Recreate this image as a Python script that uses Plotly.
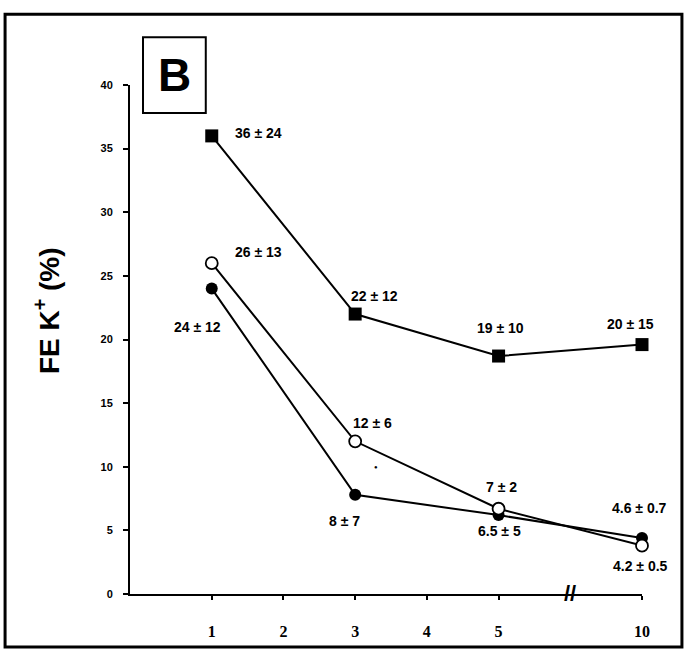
import plotly.graph_objects as go

# ---- data ----
axis_categories = ["1", "2", "3", "4", "5", "//", "10"]
tick_labels = ["1", "2", "3", "4", "5", "10"]
days = ["1", "3", "5", "10"]
squares = [36, 22, 18.7, 19.6]
open_circles = [26, 12, 6.7, 3.8]
filled_circles = [24, 7.8, 6.2, 4.4]
square_labels = ["36 ± 24", "22 ± 12", "19 ± 10", "20 ± 15"]
open_labels = ["26 ± 13", "12 ± 6", "7 ± 2", "4.2 ± 0.5"]
filled_labels = ["24 ± 12", "8 ± 7", "6.5 ± 5", "4.6 ± 0.7"]
y_ticks = [0, 5, 10, 15, 20, 25, 30, 35, 40]

SANS = "Liberation Sans, Arial, sans-serif"
SERIF = "Liberation Serif, Times New Roman, serif"


def cat_index(c):
    return axis_categories.index(c)


fig = go.Figure()
line = dict(color="black", width=2)
fig.add_trace(go.Scatter(x=days, y=squares, mode="lines+markers", line=line,
                         marker=dict(symbol="square", size=13, color="black"),
                         cliponaxis=False, showlegend=False))
fig.add_trace(go.Scatter(x=days, y=filled_circles, mode="lines+markers", line=line,
                         marker=dict(symbol="circle", size=12, color="black"),
                         cliponaxis=False, showlegend=False))
fig.add_trace(go.Scatter(x=days, y=open_circles, mode="lines+markers", line=line,
                         marker=dict(symbol="circle", size=12, color="white",
                                     line=dict(color="black", width=1.8)),
                         cliponaxis=False, showlegend=False))

lab_font = dict(family=SANS, size=14, color="black")
sq_off = [(47, 3), (19, 18), (2, 28), (-12, 21)]
op_off = [(47, 11), (17, 18), (3, 22), (-2, -20)]
fi_off = [(-14, -38), (-11, -26), (1, -16), (-3, 30)]
for vals, labs, offs in [(squares, square_labels, sq_off),
                         (open_circles, open_labels, op_off),
                         (filled_circles, filled_labels, fi_off)]:
    for d, v, t, (dx, dy) in zip(days, vals, labs, offs):
        fig.add_annotation(x=cat_index(d), y=v, text="<b>%s</b>" % t, showarrow=False,
                           xanchor="center", yanchor="middle",
                           xshift=dx, yshift=dy, font=lab_font)

# small significance dot
fig.add_annotation(x=cat_index("3"), y=10, text="●", showarrow=False, xshift=21,
                   xanchor="center", yanchor="middle",
                   font=dict(family=SANS, size=6, color="black"))
# axis break
fig.add_annotation(x=cat_index("//"), y=0, text="<b>//</b>", showarrow=False, yshift=1,
                   xanchor="center", yanchor="middle",
                   font=dict(family=SANS, size=22, color="black"))

# y title
fig.add_annotation(xref="paper", yref="paper", x=-0.162, y=0.556,
                   xanchor="center", yanchor="middle",
                   text="<b>FE K<sup>+</sup> (%)</b>", textangle=-90, showarrow=False,
                   font=dict(family=SANS, size=28, color="black"))

# B panel box
fig.add_shape(type="rect", xref="paper", yref="paper", x0=0.0254, x1=0.148,
              y0=0.945, y1=1.094, line=dict(color="black", width=2), fillcolor="white")
fig.add_annotation(xref="paper", yref="paper", x=0.087, y=1.02, text="<b>B</b>",
                   xanchor="center", yanchor="middle",
                   showarrow=False, font=dict(family=SANS, size=46, color="black"))

# outer frame
fig.add_shape(type="rect", xref="paper", yref="paper", x0=-0.244, x1=1.078,
              y0=-0.104, y1=1.139, line=dict(color="black", width=3))

fig.update_layout(
    width=684, height=652,
    margin=dict(l=130, r=42, t=85, b=56),
    paper_bgcolor="white", plot_bgcolor="white",
    xaxis=dict(type="category", categoryarray=axis_categories, categoryorder="array",
               range=[-1.14, 6.0], tickmode="array", tickvals=tick_labels,
               ticktext=tick_labels, ticks="outside", ticklen=4, tickwidth=1.5,
               tickcolor="black", showline=True, linecolor="black", linewidth=2,
               showgrid=False, zeroline=False, ticklabelstandoff=18,
               tickfont=dict(family=SERIF, size=16, color="black", weight="bold")),
    yaxis=dict(range=[0, 40], tickmode="array", tickvals=y_ticks,
               ticks="outside", ticklen=5, tickwidth=1.5, tickcolor="black",
               showline=True, linecolor="black", linewidth=2, showgrid=False,
               zeroline=False, ticklabelstandoff=8,
               tickfont=dict(family=SANS, size=11, color="black", weight="bold")),
)

fig.write_html("out.html", config={"displayModeBar": False},
               post_script="document.body.style.margin='0';document.body.style.overflow='hidden';")
